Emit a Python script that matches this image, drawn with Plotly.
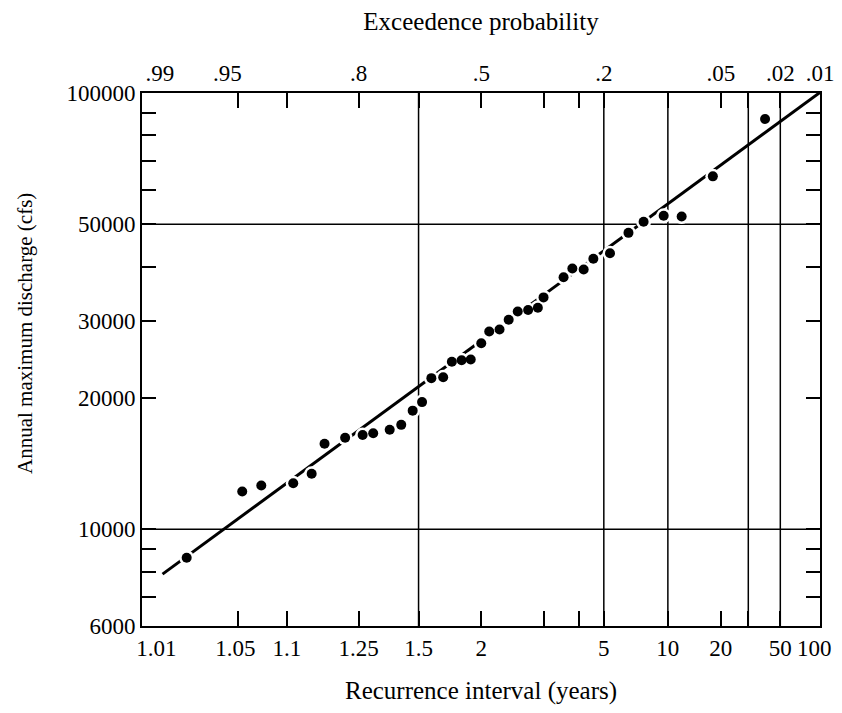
import math
from statistics import NormalDist
import plotly.graph_objects as go

# ---------------- data ----------------
recurrence_years = [1.022, 1.053, 1.070, 1.109, 1.139, 1.164, 1.212, 1.262, 1.297, 1.360,
                    1.411, 1.468, 1.520, 1.577, 1.658, 1.724, 1.806, 1.891, 2.00, 2.091,
                    2.222, 2.351, 2.493, 2.675, 2.867, 2.99, 3.497, 3.762, 4.15, 4.53,
                    5.31, 6.41, 7.55, 9.51, 11.85, 17.9, 39.0]
discharge_cfs = [8600, 12200, 12600, 12750, 13400, 15700, 16200, 16450, 16600, 16900,
                 17350, 18700, 19560, 22200, 22300, 24200, 24400, 24500, 26700, 28400,
                 28700, 30200, 31550, 31800, 32200, 34000, 37800, 39600, 39400, 41700,
                 42900, 47800, 50700, 52300, 52100, 64400, 87200]

fit_line_years = [1.0145, 100.0]
fit_line_cfs = [7890, 100300]

NB = "\u00a0"
bottom_tick_years = [1.01, 1.05, 1.1, 1.25, 1.5, 2, 3, 4, 5, 10, 20, 30, 50, 100]
bottom_tick_text = [NB * 5 + "1.01", "1.05" + NB, "1.1", "1.25", "1.5", "2", "", "", "5", "10",
                    "20", "", "50", "100" + NB * 2]

top_tick_prob = [0.99, 0.95, 0.8, 0.5, 0.2, 0.05, 0.02, 0.01]
top_tick_text = [NB * 6 + ".99", ".95" + NB * 5, ".8", ".5", ".2", ".05", ".02", ".01"]

y_tick_vals = [6000, 7000, 8000, 9000, 10000, 20000, 30000, 40000, 50000,
               60000, 70000, 80000, 90000, 100000]
y_tick_text = ["6000", "", "", "", "10000", "20000", "30000", "", "50000",
               "", "", "", "", "100000"]

grid_years = [1.5, 5, 10, 30, 50]
grid_cfs = [10000, 50000]

# ---------------- probability-paper transform ----------------
nd = NormalDist()


def z_of_T(T):
    return nd.inv_cdf(1.0 - 1.0 / T)


def z_of_p(p):
    return nd.inv_cdf(1.0 - p)


x_min = z_of_T(1.01)
x_max = z_of_T(100)

xs = [z_of_T(t) for t in recurrence_years]
line_x = [z_of_T(t) for t in fit_line_years]

FONT = "Liberation Serif"
TICK = dict(family=FONT, size=23, color="black")

fig = go.Figure()

# fitted line
fig.add_trace(go.Scatter(x=line_x, y=fit_line_cfs, mode="lines",
                         line=dict(color="black", width=3), hoverinfo="skip"))
# white halo under points (breaks the line around dots)
fig.add_trace(go.Scatter(x=xs, y=discharge_cfs, mode="markers",
                         marker=dict(color="white", size=15, line=dict(width=0)),
                         hoverinfo="skip"))
# data points
fig.add_trace(go.Scatter(x=xs, y=discharge_cfs, mode="markers",
                         marker=dict(color="black", size=10, line=dict(width=0))))
# dummy trace for top axis
fig.add_trace(go.Scatter(x=[x_min, x_max], y=[10000, 10000], xaxis="x2", mode="markers",
                         marker=dict(opacity=0), hoverinfo="skip"))

shapes = []
for t in grid_years:
    zx = z_of_T(t)
    shapes.append(dict(type="line", xref="x", yref="paper", x0=zx, x1=zx, y0=0, y1=1,
                       line=dict(color="black", width=1.5), layer="below"))
for q in grid_cfs:
    shapes.append(dict(type="line", xref="paper", yref="y", x0=0, x1=1, y0=q, y1=q,
                       line=dict(color="black", width=1.5), layer="below"))

fig.update_layout(
    width=842, height=713,
    margin=dict(l=134, r=30, t=85, b=95, autoexpand=False),
    plot_bgcolor="white", paper_bgcolor="white",
    showlegend=False,
    font=dict(family=FONT, size=23, color="black"),
    shapes=shapes,
    annotations=[dict(
        text="Annual maximum discharge (cfs)", textangle=-90,
        xref="paper", yref="paper", x=-0.1726, y=0.5497,
        xanchor="center", yanchor="middle", showarrow=False,
        font=dict(family=FONT, size=21, color="black"),
    )],
    xaxis=dict(
        range=[x_min, x_max],
        tickmode="array",
        tickvals=[z_of_T(t) for t in bottom_tick_years],
        ticktext=bottom_tick_text,
        ticks="inside", ticklen=15, tickwidth=1.5, tickcolor="black",
        showline=True, linewidth=2, linecolor="black", mirror="ticks",
        showgrid=False, zeroline=False,
        tickfont=TICK,
        title=dict(text="Recurrence interval (years)", standoff=22,
                   font=dict(family=FONT, size=25, color="black")),
    ),
    xaxis2=dict(
        range=[x_min, x_max],
        overlaying="x", side="top",
        tickmode="array",
        tickvals=[z_of_p(p) for p in top_tick_prob],
        ticktext=top_tick_text,
        ticks="", showline=False, showgrid=False, zeroline=False,
        ticklabelstandoff=6,
        tickfont=TICK,
        title=dict(text="Exceedence probability", standoff=26,
                   font=dict(family=FONT, size=25, color="black")),
    ),
    yaxis=dict(
        type="log",
        range=[math.log10(6000), 5],
        tickmode="array",
        tickvals=y_tick_vals, ticktext=y_tick_text,
        ticks="inside", ticklen=14, tickwidth=1.5, tickcolor="black",
        showline=True, linewidth=2, linecolor="black", mirror="ticks",
        showgrid=False, zeroline=False,
        tickfont=TICK,
    ),
)

fig.write_html("out.html")
